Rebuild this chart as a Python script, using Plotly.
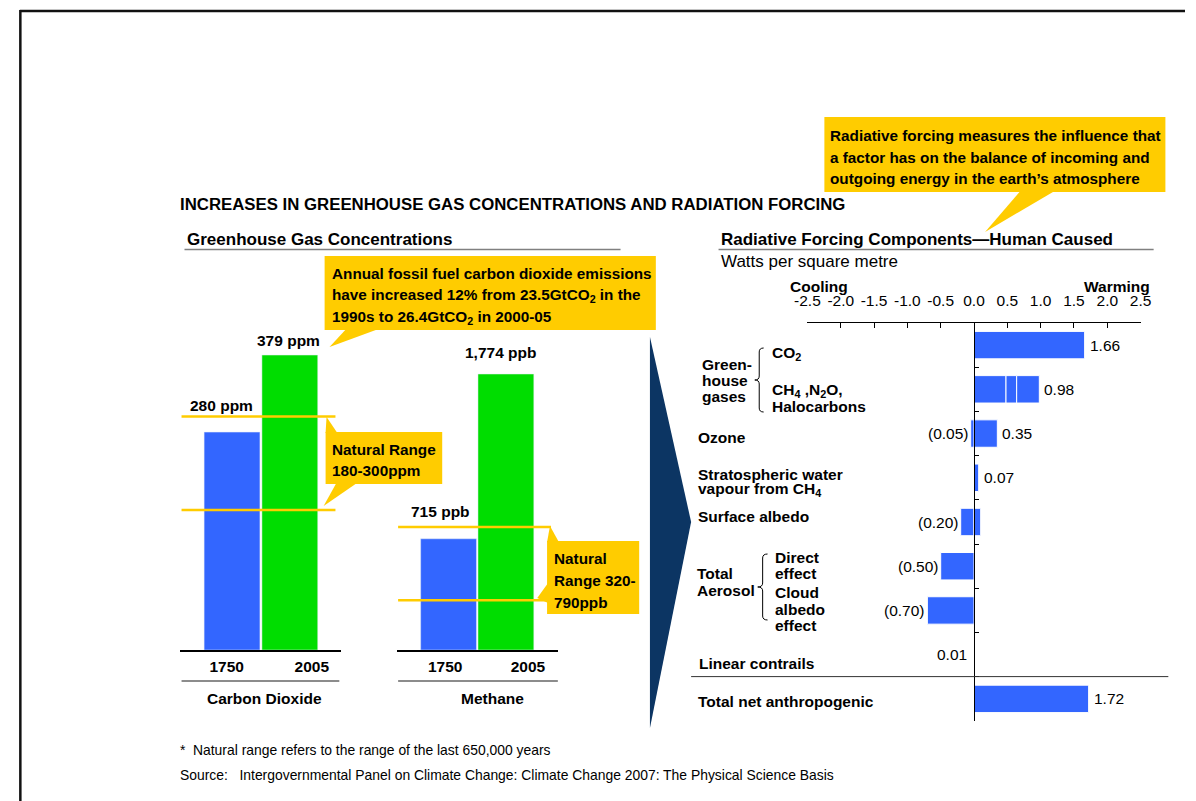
import plotly.graph_objects as go

W, H = 1196, 801
FONT = "Arial, 'Liberation Sans', sans-serif"
BLUE = "#3366FF"
GREEN = "#00DD00"
GOLD = "#FFCC00"
NAVY = "#0C3563"

# ---- Greenhouse gas concentrations ----
years = ["1750", "2005"]
co2_ppm = [280, 379]
co2_natural_range = [180, 300]
ch4_ppb = [715, 1774]
ch4_natural_range = [320, 790]

# ---- Radiative forcing components (W/m2) ----
forcing_rows = [
    "CO2",
    "CH4, N2O, Halocarbons",
    "Ozone",
    "Stratospheric water vapour",
    "Surface albedo",
    "Aerosol direct effect",
    "Aerosol cloud albedo effect",
    "Linear contrails",
    "Total net anthropogenic",
]
forcing_main = [1.66, 0.48, 0.35, 0.07, -0.20, -0.50, -0.70, 0.01, 1.72]
forcing_second = [None, 0.16, -0.05, None, 0.10, None, None, None, None]
forcing_third = [None, 0.34, None, None, None, None, None, None, None]
label_positive = [True, True, True, True, False, False, False, True, True]
label_negative = [False, False, True, False, True, True, True, False, False]
forcing_ticks = [-2.5, -2.0, -1.5, -1.0, -0.5, 0.0, 0.5, 1.0, 1.5, 2.0, 2.5]


def X(px):
    return px / W


def Y(py):
    return 1 - py / H


def path(points):
    return "M " + " L ".join(f"{X(a):.5f},{Y(b):.5f}" for a, b in points) + " Z"


def brace(xr, xl, yt, yb, r=4):
    xm = (xr + xl) / 2
    ym = (yt + yb) / 2
    p = lambda a, b: f"{X(a):.5f},{Y(b):.5f}"
    return (f"M {p(xr, yt)} Q {p(xm, yt)} {p(xm, yt + r)} L {p(xm, ym - r)} "
            f"Q {p(xm, ym)} {p(xl, ym)} Q {p(xm, ym)} {p(xm, ym + r)} "
            f"L {p(xm, yb - r)} Q {p(xm, yb)} {p(xr, yb)}")


fig = go.Figure()

# concentration bars
fig.add_trace(go.Bar(x=[0, 1], y=co2_ppm, marker_color=[BLUE, GREEN], width=0.966,
                     xaxis="x", yaxis="y", hoverinfo="skip"))
fig.add_trace(go.Bar(x=[0, 1], y=ch4_ppb, marker_color=[BLUE, GREEN], width=0.974,
                     xaxis="x2", yaxis="y2", hoverinfo="skip"))

# forcing bars (stacked components)
for vals in (forcing_main, forcing_second, forcing_third):
    fig.add_trace(go.Bar(y=forcing_rows, x=vals, orientation="h",
                         marker=dict(color=BLUE, line=dict(color="white", width=1)),
                         xaxis="x3", yaxis="y3", hoverinfo="skip"))

shapes = []
annotations = []


def text(px, py, s, size=15.5, bold=True, anchor="left", color="black"):
    annotations.append(dict(
        xref="paper", yref="paper", x=X(px), y=Y(py), text=f"<b>{s}</b>" if bold else s,
        showarrow=False, xanchor=anchor, yanchor="middle",
        font=dict(family=FONT, size=size, color=color)))


def hline(x0, x1, y, color, width):
    shapes.append(dict(type="line", xref="paper", yref="paper", x0=X(x0), x1=X(x1),
                       y0=Y(y), y1=Y(y), line=dict(color=color, width=width)))


# frame
hline(7, 1196, 11, "#111111", 2.5)
shapes.append(dict(type="line", xref="paper", yref="paper", x0=X(7.5), x1=X(7.5),
                   y0=Y(10), y1=Y(801), line=dict(color="#111111", width=2.5)))

# titles
text(168, 205, "INCREASES IN GREENHOUSE GAS CONCENTRATIONS AND RADIATION FORCING", size=16.8)
text(176, 239, "Greenhouse Gas Concentrations", size=17)
hline(175, 620, 249.5, "#808080", 1.5)
text(720, 239, "Radiative Forcing Components\u2014Human Caused", size=17)
hline(720, 1164, 249.5, "#808080", 1.5)
text(720, 261, "Watts per square metre", size=17, bold=False)

# natural range lines
for ax, rng, dom in (("x", co2_natural_range, (0.012, 0.964)),
                     ("x2", ch4_natural_range, (0.006, 0.957))):
    yref = "y" if ax == "x" else "y2"
    for v in rng:
        shapes.append(dict(type="line", xref=f"{ax} domain", yref=yref, x0=dom[0], x1=dom[1],
                           y0=v, y1=v, line=dict(color=GOLD, width=2.5), layer="above"))

# concentration value labels
for ax, ay, vals, unit, offs in (
        ("x", "y", co2_ppm, "ppm", [(-11, 27), (-1, 15)]),
        ("x2", "y2", ch4_ppb, "ppb", [(-8, 27), (-5, 22)])):
    for i, v in enumerate(vals):
        annotations.append(dict(
            xref=ax, yref=ay, x=i, y=v, text=f"<b>{v:,} {unit}</b>", showarrow=False,
            xanchor="center", yanchor="middle", xshift=offs[i][0], yshift=offs[i][1],
            font=dict(family=FONT, size=15.5, color="black")))

# gas names under the panels
hline(172, 333, 681, "#666666", 1.5)
hline(393, 556, 681, "#666666", 1.5)
text(257, 698, "Carbon Dioxide", anchor="center")
text(489, 698, "Methane", anchor="center")

# callout boxes with pointers
def callout(x0, y0, x1, y1, pointers, lines, tx, ty, dy):
    shapes.append(dict(type="rect", xref="paper", yref="paper", x0=X(x0), x1=X(x1),
                       y0=Y(y1), y1=Y(y0), fillcolor=GOLD, line=dict(width=0), layer="above"))
    for tri in pointers:
        shapes.append(dict(type="path", xref="paper", yref="paper", path=path(tri),
                           fillcolor=GOLD, line=dict(width=0), layer="above"))
    for k, s in enumerate(lines):
        text(tx, ty + k * dy, s, size=15.3)


callout(318, 256, 656, 330, [[(340, 329), (373, 329), (323, 347)]],
        ["Annual fossil fuel carbon dioxide emissions",
         "have increased 12% from 23.5GtCO<sub>2</sub> in the",
         "1990s to 26.4GtCO<sub>2</sub> in 2000-05"], 323, 274, 21.5)
callout(319, 432, 438, 484,
        [[(319, 433), (331, 433), (320, 417)], [(330, 483), (351, 483), (317, 506)]],
        ["Natural Range", "180-300ppm"], 324, 449, 21)
callout(545, 541, 639, 614,
        [[(545, 542), (557, 542), (548, 526)], [(546, 583), (546, 603), (535, 598)]],
        ["Natural", "Range 320-", "790ppb"], 550, 558, 22)
callout(828, 117, 1176, 192, [[(1028, 191), (1063, 191), (992, 232)]],
        ["Radiative forcing measures the influence that",
         "a factor has on the balance of incoming and",
         "outgoing energy in the earth\u2019s atmosphere"], 832, 136, 21)

# chevron between panels
shapes.append(dict(type="path", xref="paper", yref="paper",
                   path=path([(650, 337), (692, 522), (650, 728)]),
                   fillcolor=NAVY, line=dict(width=0)))

# forcing panel decorations
text(823, 286, "Cooling", anchor="center")
text(1127, 286, "Warming", anchor="center")
hline(692, 1179, 676.6, "#333333", 1)

# row labels
for px, py, s in [
    (701, 364, "Green-"), (701, 380, "house"), (701, 396, "gases"),
    (772, 353, "CO<sub>2</sub>"),
    (772, 390, "CH<sub>4</sub> ,N<sub>2</sub>O,"), (772, 406, "Halocarbons"),
    (697, 437, "Ozone"),
    (697, 474, "Stratospheric water"), (697, 489, "vapour from CH<sub>4</sub>"),
    (697, 516, "Surface albedo"),
    (696, 573, "Total"), (696, 590, "Aerosol"),
    (776, 557, "Direct"), (776, 573, "effect"),
    (776, 592, "Cloud"), (776, 609, "albedo"), (776, 625, "effect"),
    (698, 663, "Linear contrails"),
    (697, 701, "Total net anthropogenic"),
]:
    text(px, py, s)

shapes.append(dict(type="path", xref="paper", yref="paper", path=brace(766, 757, 348, 412),
                   line=dict(color="black", width=1)))
shapes.append(dict(type="path", xref="paper", yref="paper", path=brace(770, 760, 554, 620),
                   line=dict(color="black", width=1)))

# forcing value labels
for i, row in enumerate(forcing_rows):
    parts = [v for v in (forcing_main[i], forcing_second[i], forcing_third[i]) if v is not None]
    pos = round(sum(v for v in parts if v > 0), 2)
    neg = round(sum(v for v in parts if v < 0), 2)
    lab_font = dict(family=FONT, size=15.5, color="black")
    if label_positive[i] and pos > 0:
        if pos < 0.05:
            annotations.append(dict(xref="x3", yref="y3", x=pos, y=row, text=f"{pos:.2f}",
                                    showarrow=False, xanchor="right", xshift=-6, font=lab_font))
        else:
            annotations.append(dict(xref="x3", yref="y3", x=pos, y=row, text=f"{pos:.2f}",
                                    showarrow=False, xanchor="left", xshift=3, font=lab_font))
    if label_negative[i] and neg < 0:
        annotations.append(dict(xref="x3", yref="y3", x=neg, y=row, text=f"({abs(neg):.2f})",
                                showarrow=False, xanchor="right", xshift=0, font=lab_font))

# footnotes
text(168, 750, "*", size=13.9, bold=False)
text(182, 750, "Natural range refers to the range of the last 650,000 years", size=13.9, bold=False)
text(168, 775, "Source:&nbsp;&nbsp; Intergovernmental Panel on Climate Change: Climate Change 2007: "
     "The Physical Science Basis", size=13.9, bold=False)

common_x = dict(showline=True, linecolor="black", linewidth=2, ticks="", showgrid=False,
                zeroline=False, tickfont=dict(family=FONT, size=15.5, color="black"),
                ticklabelstandoff=1)

fig.update_layout(
    width=W, height=H, margin=dict(l=0, r=0, t=0, b=0),
    paper_bgcolor="white", plot_bgcolor="rgba(0,0,0,0)",
    showlegend=False, barmode="relative", bargap=0.38,
    font=dict(family=FONT, color="black"),
    xaxis=dict(domain=[X(170), X(335)], range=[-0.907, 1.890], anchor="y",
               tickvals=[-0.093, 1.381], ticktext=[f"<b>{y}</b>" for y in years], **common_x),
    yaxis=dict(domain=[Y(650), Y(330)], range=[0, 411.2], visible=False, anchor="x"),
    xaxis2=dict(domain=[X(392), X(556)], range=[-0.897, 1.906], anchor="y2",
                tickvals=[-0.06, 1.385], ticktext=[f"<b>{y}</b>" for y in years], **common_x),
    yaxis2=dict(domain=[Y(650), Y(330)], range=[0, 2057], visible=False, anchor="x2"),
    xaxis3=dict(domain=[X(810.7), X(1150.7)], range=[-2.5, 2.5], side="top", anchor="y3",
                tickvals=forcing_ticks, ticktext=[f"{t:.1f}" for t in forcing_ticks],
                ticks="inside", ticklen=5, tickcolor="black", showline=True, linecolor="black",
                linewidth=1, showgrid=False, zeroline=False, ticklabelstandoff=10,
                tickfont=dict(family=FONT, size=15.5, color="black")),
    yaxis3=dict(domain=[Y(721), Y(323)], type="category", categoryorder="array",
                categoryarray=forcing_rows, range=[8.5, -0.5], anchor="free",
                position=X(980.7), showline=True, linecolor="black", linewidth=1,
                ticks="inside", tickson="boundaries", ticklen=4, tickcolor="black",
                showticklabels=False, showgrid=False, zeroline=False),
    shapes=shapes,
    annotations=annotations,
)

fig.write_html("out.html")
